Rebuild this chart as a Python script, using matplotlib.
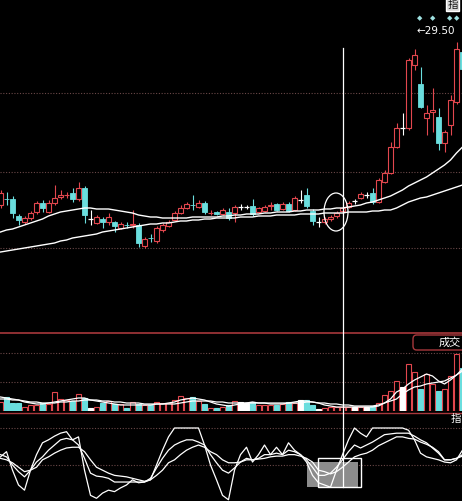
import matplotlib
matplotlib.use('Agg')
import matplotlib.pyplot as plt
from matplotlib.patches import Rectangle, Ellipse, FancyBboxPatch
from matplotlib.lines import Line2D

plt.rcParams['font.family'] = ['Noto Sans CJK SC', 'DejaVu Sans']

# --------------- Data ---------------
opens = [21.70, 22.02, 22.00, 21.15, 20.85, 21.05, 21.35, 21.80, 21.35, 21.80,
         22.10, 22.18, 22.30, 22.00, 22.55, 21.00, 20.80, 21.00, 20.85, 20.85,
         20.55, 20.72, 20.70, 20.70, 19.65, 20.07, 19.90, 20.45, 20.65, 20.95,
         21.30, 21.55, 21.72, 21.60, 21.80, 21.28, 21.35, 21.25, 21.35, 21.30,
         21.60, 21.60, 21.65, 21.35, 21.40, 21.65, 21.75, 21.50, 21.75, 21.45,
         21.95, 22.20, 21.40, 20.85, 20.85, 21.00, 21.15, 21.40, 21.60, 21.90,
         22.05, 22.20, 22.30, 21.85, 22.85, 23.30, 24.60, 25.55, 25.55, 28.70,
         27.75, 26.05, 26.35, 26.10, 24.80, 25.70, 26.85, 29.35]
highs = [22.45, 22.35, 22.15, 21.25, 21.15, 21.40, 21.90, 21.95, 21.95, 22.70,
         22.45, 22.35, 22.55, 22.85, 22.65, 21.45, 21.20, 21.10, 21.30, 20.90,
         20.85, 20.85, 21.45, 20.80, 20.10, 20.25, 20.65, 20.80, 20.95, 21.40,
         21.70, 21.85, 22.20, 21.95, 21.90, 21.45, 21.40, 21.55, 21.55, 21.70,
         21.75, 21.70, 22.00, 21.60, 21.70, 21.85, 21.80, 21.85, 21.85, 22.15,
         22.45, 22.55, 21.50, 21.10, 21.10, 21.20, 21.40, 21.65, 21.90, 22.00,
         22.35, 22.35, 22.55, 23.05, 23.45, 24.85, 25.80, 26.30, 29.05, 29.50,
         28.60, 26.70, 27.55, 26.55, 25.45, 27.20, 29.85, 29.40]
lows = [21.55, 21.70, 21.05, 20.70, 20.75, 20.95, 21.25, 21.35, 21.30, 21.70,
        22.00, 22.05, 21.85, 21.90, 20.80, 20.70, 20.75, 20.55, 20.70, 20.35,
        20.50, 20.55, 20.55, 19.60, 19.55, 19.85, 19.80, 20.35, 20.60, 20.90,
        21.25, 21.50, 21.45, 21.55, 21.25, 21.20, 21.20, 21.20, 20.95, 20.85,
        21.45, 21.50, 21.15, 21.30, 21.35, 21.45, 21.40, 21.45, 21.35, 21.40,
        21.80, 21.55, 20.70, 20.60, 20.75, 20.90, 21.05, 21.30, 21.55, 21.75,
        22.00, 22.05, 21.75, 21.80, 22.80, 23.25, 24.55, 25.20, 25.45, 28.45,
        26.55, 25.20, 25.35, 24.45, 24.35, 25.20, 26.75, 28.30]
closes = [22.30, 21.98, 21.30, 20.95, 21.05, 21.30, 21.80, 21.55, 21.80, 22.05,
          22.20, 22.22, 22.00, 22.55, 21.20, 21.00, 21.10, 20.85, 21.10, 20.65,
          20.75, 20.68, 20.75, 19.80, 20.00, 20.03, 20.55, 20.70, 20.85, 21.30,
          21.55, 21.75, 21.68, 21.80, 21.35, 21.32, 21.25, 21.45, 21.05, 21.60,
          21.60, 21.60, 21.25, 21.55, 21.60, 21.70, 21.45, 21.75, 21.40, 22.05,
          21.95, 21.65, 20.90, 20.85, 21.00, 21.10, 21.30, 21.55, 21.80, 21.90,
          22.25, 22.20, 21.85, 22.95, 23.30, 24.60, 25.55, 25.55, 28.95, 29.20,
          26.60, 26.30, 26.45, 24.80, 25.35, 26.95, 29.50, 28.50]

ma_a = [20.35, 20.45, 20.50, 20.60, 20.70, 20.80, 20.90, 21.00, 21.15, 21.25,
        21.35, 21.40, 21.45, 21.50, 21.55, 21.55, 21.50, 21.50, 21.50, 21.45,
        21.40, 21.35, 21.30, 21.20, 21.15, 21.10, 21.10, 21.05, 21.05, 21.05,
        21.05, 21.05, 21.10, 21.10, 21.10, 21.10, 21.10, 21.15, 21.15, 21.20,
        21.20, 21.25, 21.25, 21.25, 21.30, 21.30, 21.35, 21.35, 21.35, 21.40,
        21.40, 21.45, 21.45, 21.45, 21.50, 21.50, 21.55, 21.55, 21.60, 21.65,
        21.70, 21.80, 21.85, 21.95, 22.05, 22.15, 22.30, 22.45, 22.65, 22.80,
        22.95, 23.10, 23.30, 23.50, 23.70, 23.95, 24.30, 24.60]
ma_b = [19.35, 19.40, 19.45, 19.50, 19.55, 19.60, 19.65, 19.70, 19.75, 19.80,
        19.90, 19.95, 20.05, 20.10, 20.15, 20.20, 20.25, 20.35, 20.40, 20.45,
        20.50, 20.55, 20.60, 20.65, 20.70, 20.75, 20.75, 20.80, 20.80, 20.85,
        20.90, 20.90, 20.95, 20.95, 21.00, 21.00, 21.05, 21.05, 21.05, 21.05,
        21.10, 21.10, 21.10, 21.15, 21.15, 21.15, 21.20, 21.20, 21.20, 21.20,
        21.25, 21.25, 21.25, 21.25, 21.30, 21.30, 21.30, 21.30, 21.35, 21.35,
        21.35, 21.35, 21.40, 21.40, 21.45, 21.45, 21.55, 21.70, 21.85, 21.95,
        22.05, 22.10, 22.20, 22.30, 22.40, 22.50, 22.60, 22.70]

volume = [9, 14, 8, 8, 4, 6, 6, 8, 7, 19,
          12, 11, 10, 17, 13, 3, 4, 8, 10, 7,
          7, 3, 9, 7, 6, 6, 9, 8, 8, 11,
          15, 13, 14, 10, 7, 3, 3, 4, 6, 10,
          9, 8, 9, 6, 6, 6, 6, 7, 9, 8,
          11, 11, 6, 2, 3, 4, 4, 4, 4, 4,
          4, 4, 5, 8, 16, 20, 30, 24, 47, 39,
          22, 37, 27, 20, 22, 35, 57, 43]
vol_ma1 = [14, 13, 12, 11, 9, 8, 7, 7, 8, 9,
           10, 11, 12, 13, 13, 11, 10, 9, 8, 7,
           6, 6, 6, 6, 6, 6, 7, 7, 8, 9,
           11, 12, 13, 12, 11, 9, 7, 6, 5, 6,
           7, 8, 9, 8, 8, 7, 7, 7, 8, 9,
           10, 10, 9, 8, 6, 5, 4, 4, 4, 4,
           4, 4, 4, 5, 8, 12, 19, 22, 27, 31,
           34, 37, 35, 30, 27, 31, 36, 42]
vol_ma2 = [12, 12, 11, 11, 10, 9, 9, 8, 8, 8,
           9, 9, 10, 10, 11, 11, 11, 10, 10, 9,
           9, 8, 8, 8, 7, 7, 7, 7, 7, 7,
           8, 9, 10, 10, 10, 10, 9, 9, 8, 8,
           8, 8, 8, 8, 8, 8, 8, 8, 8, 8,
           8, 9, 9, 8, 8, 7, 7, 6, 6, 5,
           5, 5, 5, 6, 8, 10, 12, 17, 21, 24,
           25, 27, 28, 29, 30, 33, 36, 40]

k_line = [64, 61, 50, 41, 34, 43, 54, 61, 70, 77,
          84, 86, 84, 77, 59, 39, 35, 34, 32, 27,
          27, 27, 27, 27, 27, 32, 46, 59, 70, 77,
          81, 84, 84, 81, 77, 64, 53, 43, 39, 46,
          54, 59, 57, 59, 64, 64, 66, 64, 70, 68,
          64, 57, 47, 36, 36, 39, 47, 57, 68, 77,
          73, 77, 81, 86, 91, 92, 93, 93, 93, 89,
          84, 80, 73, 66, 57, 57, 59, 64]
d_line = [59, 57, 53, 47, 41, 43, 47, 57, 61, 66,
          70, 73, 74, 74, 68, 57, 47, 43, 39, 36,
          35, 34, 32, 30, 28, 30, 36, 43, 53, 57,
          64, 70, 74, 77, 74, 68, 64, 57, 53, 53,
          54, 57, 57, 58, 59, 61, 62, 62, 64, 64,
          62, 59, 54, 43, 41, 38, 41, 47, 54, 61,
          64, 66, 70, 76, 80, 84, 88, 88, 86, 85,
          81, 78, 74, 68, 57, 57, 59, 62]
j_line = [61, 68, 43, 23, 16, 43, 64, 80, 84, 89,
          93, 95, 84, 88, 43, 9, 5, 12, 16, 14,
          19, 23, 30, 26, 27, 30, 50, 70, 88, 100,
          100, 100, 100, 100, 77, 50, 30, 9, 3, 43,
          64, 74, 54, 64, 77, 64, 74, 64, 80, 70,
          64, 54, 36, 26, 23, 20, 43, 64, 84, 100,
          93, 88, 100, 100, 100, 100, 100, 100, 97, 84,
          66, 61, 59, 57, 54, 53, 57, 70]

max_label = '29.50'
max_idx = 69

# --------------- Styles ---------------
W, H = 462, 501
RED = '#e2474e'
CYAN = '#6adede'
GRID = '#6a4848'
BORDER = '#a8383c'


def fx(px):
    return px / W


def fy(py):
    return 1 - py / H


def candle_color(o, c):
    if c > o:
        return RED
    if c < o:
        return CYAN
    return 'white'


fig = plt.figure(figsize=(W / 100, H / 100), dpi=100, facecolor='black')

ax_p = fig.add_axes([0, fy(332), 1, 332 / H])
ax_v = fig.add_axes([0, fy(411), 1, 78 / H])
ax_k = fig.add_axes([0, 0, 1, 86 / H])

xlim = (-1 / 12, 461.5 / 6)
for ax in (ax_p, ax_v, ax_k):
    ax.set_facecolor('black')
    ax.set_xlim(*xlim)
    ax.set_xticks([])
    ax.set_yticks([])
    for s in ax.spines.values():
        s.set_visible(False)

# --------------- Price panel ---------------
ax_p.set_ylim(31.95 - 332 / 20, 31.95)
for g in [27.30, 23.35, 19.55]:
    ax_p.axhline(g, color=GRID, lw=0.8, ls=(0, (1, 1.5)), zorder=0)

bw = 0.75
n = len(opens)
for i in range(n):
    o, h, l, c = opens[i], highs[i], lows[i], closes[i]
    col = candle_color(o, c)
    if c > o:
        ax_p.vlines(i, l, o, color=col, lw=0.8, zorder=2)
        ax_p.vlines(i, c, h, color=col, lw=0.8, zorder=2)
        ax_p.add_patch(Rectangle((i - bw / 2, o), bw, c - o, facecolor='black',
                                 edgecolor=col, lw=0.8, zorder=2))
    elif c < o:
        ax_p.vlines(i, l, h, color=col, lw=0.8, zorder=2)
        ax_p.add_patch(Rectangle((i - bw / 2, c), bw, o - c, facecolor=col,
                                 edgecolor=col, lw=0.6, zorder=2))
    else:
        ax_p.vlines(i, l, h, color=col, lw=0.8, zorder=2)
        ax_p.hlines(c, i - bw / 2, i + bw / 2, color=col, lw=0.9, zorder=2)

idx = list(range(n))
ax_p.plot(idx, ma_a, color='white', lw=1.0, zorder=3)
ax_p.plot(idx, ma_b, color='white', lw=1.0, zorder=3)

ax_p.annotate('\u2190' + max_label, xy=(max_idx, highs[max_idx]), xytext=(2, 18),
              textcoords='offset pixels', color='white', fontsize=7.5,
              family='DejaVu Sans', va='center', ha='left')

# --------------- Volume panel ---------------
ax_v.set_ylim(0, 78)
for g in [58, 29]:
    ax_v.axhline(g, color=GRID, lw=0.8, ls=(0, (1, 1.5)), zorder=0)
faces, edges = [], []
for o, c in zip(opens, closes):
    col = candle_color(o, c)
    edges.append(col)
    faces.append('black' if c > o else col)
ax_v.bar(idx, volume, width=0.8, color=faces, edgecolor=edges, linewidth=0.8, zorder=2)
ax_v.plot(idx, vol_ma1, color='white', lw=0.9, zorder=3)
ax_v.plot(idx, vol_ma2, color='white', lw=0.9, zorder=3)

# --------------- KDJ panel ---------------
ax_k.set_ylim((502 - 501) / 0.74, (502 - 415) / 0.74)
for g in [100, 50]:
    ax_k.axhline(g, color=GRID, lw=0.8, ls=(0, (1, 1.5)), zorder=0)
ax_k.add_patch(Rectangle((fx(307), fy(487)), 51 / W, 25 / H, transform=fig.transFigure,
                         facecolor='#8c8c8c', edgecolor='none', zorder=1))
ax_k.plot(idx, k_line, color='white', lw=0.9, zorder=2)
ax_k.plot(idx, d_line, color='white', lw=0.9, zorder=2)
ax_k.plot(idx, j_line, color='white', lw=0.9, zorder=2)
ax_k.add_patch(Rectangle((fx(318), fy(487)), 43 / W, 29 / H, transform=fig.transFigure,
                         fill=False, edgecolor='white', lw=1, zorder=3))

# --------------- Decorations ---------------
fig.add_artist(Line2D([0, 1], [fy(332.5)] * 2, color=BORDER, lw=1.2, zorder=4))
fig.add_artist(Line2D([0, 1], [fy(413)] * 2, color=BORDER, lw=1.0, zorder=4))
fig.add_artist(Line2D([fx(343)] * 2, [fy(48), fy(487)], color='white', lw=0.9, zorder=5))
fig.add_artist(Ellipse((fx(336), fy(212)), 24 / W, 38 / H, transform=fig.transFigure,
                       fill=False, edgecolor='white', lw=0.9, zorder=5))
fig.add_artist(FancyBboxPatch((fx(413), fy(350)), 60 / W, 15 / H,
                              boxstyle='round,pad=0,rounding_size=0.008',
                              transform=fig.transFigure, fill=False,
                              edgecolor=BORDER, lw=1, zorder=5))
fig.text(fx(461), fy(342.5), '成交', color='white', fontsize=8, ha='right',
         va='center', zorder=6)
fig.text(fx(461), fy(419), '指', color='white', fontsize=7.5, ha='right',
         va='center', zorder=6)
fig.text(fx(458), fy(5), '指', color='#111111', fontsize=7.5, ha='right', va='center',
         zorder=6, bbox=dict(facecolor='#d8d8d8', edgecolor='white', pad=1))
for dx in [420, 433, 450, 457]:
    fig.text(fx(dx), fy(18), '◆', color='#9ee0e0', fontsize=5, ha='center',
             va='center', family=['DejaVu Sans'], zorder=6)

fig.savefig('out.png', dpi=100, facecolor='black')
